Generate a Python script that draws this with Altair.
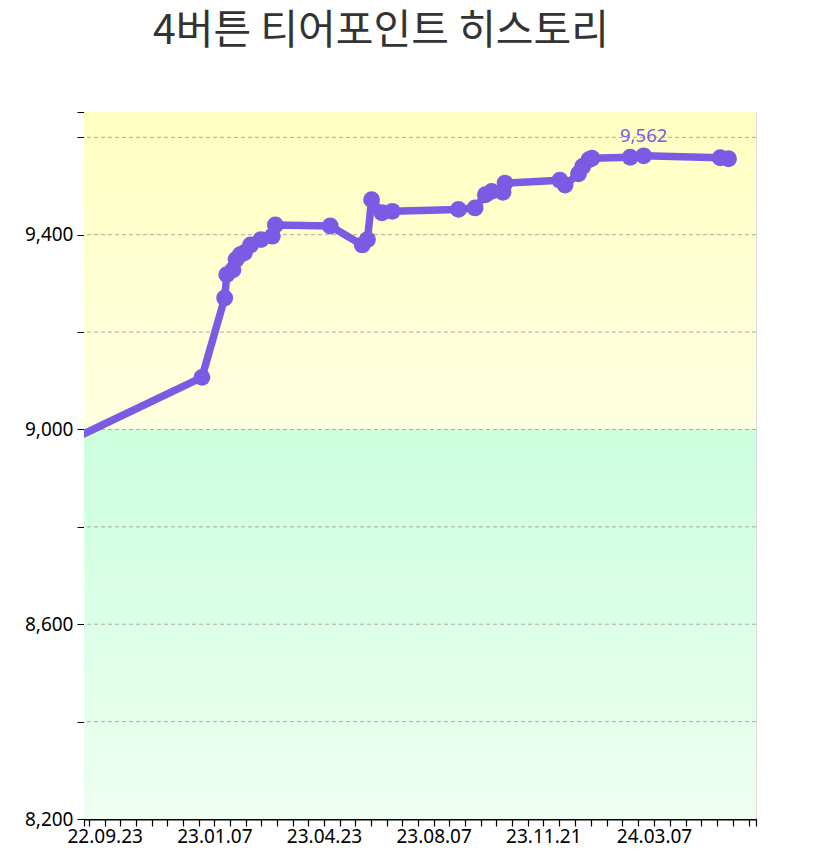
import altair as alt
import pandas as pd
from datetime import datetime, timezone

# ---- data ----
# (the first record lies just left of the visible range and is clipped, as in the reference)
dates = [
    "2022-08-20", "2022-12-26", "2023-01-17", "2023-01-19", "2023-01-25",
    "2023-01-28", "2023-02-01", "2023-02-05", "2023-02-11", "2023-02-21",
    "2023-03-04", "2023-03-07", "2023-04-29", "2023-05-30", "2023-06-04",
    "2023-06-08", "2023-06-18", "2023-06-28", "2023-08-31", "2023-09-16",
    "2023-09-26", "2023-10-02", "2023-10-13", "2023-10-15", "2023-12-07",
    "2023-12-12", "2023-12-25", "2023-12-29", "2024-01-04", "2024-01-07",
    "2024-02-13", "2024-02-26", "2024-05-10", "2024-05-18",
]
points = [
    8977, 9107, 9270, 9318, 9328,
    9349, 9359, 9363, 9379, 9390,
    9397, 9420, 9418, 9379, 9390,
    9472, 9445, 9448, 9452, 9455,
    9482, 9489, 9487, 9506, 9512,
    9502, 9525, 9540, 9554, 9557,
    9559, 9562, 9558, 9556,
]
label_dates = ["2022-09-23", "2023-01-07", "2023-04-23", "2023-08-07", "2023-11-21", "2024-03-07"]
x_domain = ["2022-09-03T00:00:00", "2024-06-13T14:00:00"]
y_domain = [8200, 9652]
y_ticks = [8200, 8400, 8600, 8800, 9000, 9200, 9400, 9600, 9652]
y_labels = [8200, 8600, 9000, 9400]
grid_vals = [8400, 8600, 8800, 9000, 9200, 9400, 9600]
band_green = [8200, 9000]
band_yellow = [9000, 9652]

TITLE = "4버튼 티어포인트 히스토리"
PURPLE = "#7b5be3"


def ms(s):
    return int(datetime.fromisoformat(s).replace(tzinfo=timezone.utc).timestamp() * 1000)


d0, d1 = ms(x_domain[0]), ms(x_domain[1])
lab_ms = [ms(d) for d in label_dates]

# tick positions: 7 ticks per label interval
ticks = [d0, lab_ms[0] - (lab_ms[1] - lab_ms[0]) / 7]
for a, b in zip(lab_ms[:-1], lab_ms[1:]):
    for k in range(7):
        ticks.append(a + (b - a) * k / 7)
ticks.append(lab_ms[-1])
step = (lab_ms[-1] - lab_ms[-2]) / 7
t = lab_ms[-1] + step
while t < d1 - step * 0.3:
    ticks.append(t)
    t += step
ticks.append(d1)
ticks = [int(round(v)) for v in ticks]

df = pd.DataFrame({"date": [ms(d) for d in dates], "value": points})
top = df.loc[[df["value"].idxmax()]]

lab_js = "[" + ",".join("'" + pd.Timestamp(d).strftime("%y.%m.%d") + "'" for d in label_dates) + "]"
ylab_js = "[" + ",".join(str(v) for v in y_labels) + "]"

x_scale = alt.Scale(type="utc", domain=[d0, d1], nice=False)
y_scale = alt.Scale(domain=y_domain, nice=False, zero=False)

x_axis = alt.Axis(
    values=ticks, title=None, grid=False, tickSize=7, tickColor="black",
    domainColor="black", domainWidth=2, tickWidth=1.2, labelFontSize=19,
    labelFont="Noto Sans", labelColor="black", labelPadding=1,
    labelOverlap=False, labelFlush=False,
    labelExpr=f"indexof({lab_js}, utcFormat(datum.value, '%y.%m.%d')) >= 0 ? utcFormat(datum.value, '%y.%m.%d') : ''",
)
y_axis = alt.Axis(
    values=y_ticks, title=None, grid=False, tickSize=7, tickColor="black",
    domainColor="black", domainWidth=1, labelFontSize=19, labelFont="Noto Sans",
    labelColor="black", labelPadding=4, labelOverlap=False, labelFlush=False,
    labelExpr=f"indexof({ylab_js}, datum.value) >= 0 ? format(datum.value, ',') : ''",
)


def X(field):
    return alt.X(field, type="temporal", scale=x_scale, axis=x_axis)


def Y(field):
    return alt.Y(field, type="quantitative", scale=y_scale, axis=y_axis)


bands = pd.DataFrame({"x": [d0], "x2": [d1]})

yellow = alt.Chart(bands.assign(y=band_yellow[0], y2=band_yellow[1])).mark_rect(
    color=alt.Gradient(
        gradient="linear",
        stops=[alt.GradientStop(color="#ffffc2", offset=0),
               alt.GradientStop(color="#ffffe2", offset=1)],
        x1=0, x2=0, y1=0, y2=1,
    )
).encode(x=X("x"), x2="x2:T", y=Y("y"), y2="y2:Q")
green = alt.Chart(bands.assign(y=band_green[0], y2=band_green[1])).mark_rect(
    color=alt.Gradient(
        gradient="linear",
        stops=[alt.GradientStop(color="#ccffdd", offset=0),
               alt.GradientStop(color="#eefff2", offset=1)],
        x1=0, x2=0, y1=0, y2=1,
    )
).encode(x=X("x"), x2="x2:T", y=Y("y"), y2="y2:Q")

grid = alt.Chart(pd.DataFrame({"g": grid_vals})).mark_rule(
    color="#aaaaaa", strokeWidth=1, strokeDash=[4, 3]
).encode(y=Y("g"))

line = alt.Chart(df).mark_line(
    color=PURPLE, strokeWidth=7.5, strokeJoin="round", strokeCap="round", clip=True
).encode(x=X("date"), y=Y("value"))
dots = alt.Chart(df).mark_circle(color=PURPLE, size=285, opacity=1, clip=True).encode(
    x=X("date"), y=Y("value")
)
label = alt.Chart(top).mark_text(
    color=PURPLE, fontSize=18.5, font="Noto Sans", dy=-20
).encode(x=X("date"), y=Y("value"), text=alt.Text("value:Q", format=","))

chart = alt.layer(yellow, green, grid, line, dots, label).properties(
    width=672, height=707,
    autosize=alt.AutoSizeParams(type="none"),
    padding={"left": 76, "top": 104, "right": 50, "bottom": 30},
    title=alt.TitleParams(
        TITLE, fontSize=41, font="Noto Sans CJK KR", color="#333333",
        fontWeight="normal", anchor="middle", frame="group", offset=50, dx=-39,
    ),
).configure_view(stroke=None).configure(background="white")

chart.save("out.html", embed_options={"renderer": "svg", "actions": False})
